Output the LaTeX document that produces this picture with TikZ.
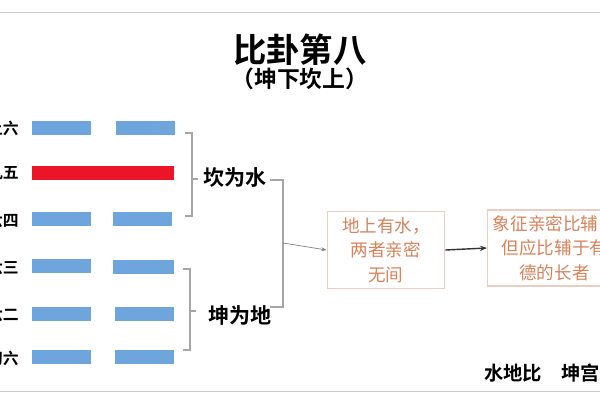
\documentclass[tikz,border=0pt]{standalone}
\usepackage{fontspec}
\newfontfamily\cjk{Noto Sans CJK SC}
\newfontfamily\cjkb{Noto Sans CJK SC Bold}
\usetikzlibrary{arrows.meta}
\definecolor{barblue}{RGB}{110,165,220}
\definecolor{barred}{RGB}{235,20,40}
\definecolor{boxtext}{RGB}{215,130,90}
\definecolor{boxline}{RGB}{235,205,195}
\tikzset{
  yin/.style={fill=barblue},
  lbl/.style={font=\cjkb\fontsize{9}{10}\selectfont, anchor=east, inner sep=0pt},
  trig/.style={font=\cjkb\fontsize{12}{14}\selectfont},
  brk/.style={draw=gray!70, line width=0.6pt},
  note/.style={draw=boxline, line width=0.8pt, text=boxtext, align=center,
    font=\cjk\fontsize{10}{14}\selectfont, minimum height=1.4cm}
}
\begin{document}
\begin{tikzpicture}[x=0.02cm,y=-0.02cm]
  \useasboundingbox (0,0) rectangle (600,400);
  \draw[gray!40] (0,12) -- (600,12);
  \draw[gray!40] (0,391) -- (600,391);

  \node[font=\cjkb\fontsize{19}{22}\selectfont] (title) at (300,50) {比卦第八};
  \node[font=\cjkb\fontsize{13}{15}\selectfont] (sub) at (300,79) {（坤下坎上）};

  % lines, top to bottom
  \fill[yin] (32,121) rectangle (91,135);  \fill[yin] (116,121) rectangle (175,135);
  \fill[barred] (32,166) rectangle (174,180);
  \fill[yin] (32,212) rectangle (91,226);  \fill[yin] (113,212) rectangle (172,226);
  \fill[yin] (32,259) rectangle (91,273);  \fill[yin] (113,260) rectangle (174,274);
  \fill[yin] (32,307) rectangle (91,321);  \fill[yin] (115,307) rectangle (174,321);
  \fill[yin] (32,350) rectangle (91,364);  \fill[yin] (115,350) rectangle (174,364);

  \node[lbl] (l6) at (19,128) {上六};
  \node[lbl] (l5) at (19,173) {九五};
  \node[lbl] (l4) at (19,220) {六四};
  \node[lbl] (l3) at (19,267) {六三};
  \node[lbl] (l2) at (19,314) {六二};
  \node[lbl] (l1) at (19,358) {初六};

  \node[trig] (kan) at (235,178) {坎为水};
  \node[trig] (kun) at (240,315) {坤为地};
  \draw[brk] (185,133) -- (192,133) -- (192,216) -- (185,216);
  \draw[brk] (192,179) -- (198,179);
  \draw[brk] (183,269) -- (190,269) -- (190,350) -- (183,350);
  \draw[brk] (190,311) -- (196,311);
  \draw[brk] (270,180) -- (283,180) -- (283,307) -- (270,307);
  \coordinate (mid) at (283,243);

  \node[note, minimum width=2.35cm] (b1) at (386,250) {地上有水，\\两者亲密\\无间};
  \node[note, inner sep=3pt, anchor=west] (b2) at (487,248) {象征亲密比辅，\\但应比辅于有\\德的长者};
  \draw[gray, -{Stealth[length=3pt]}] (mid) -- (b1.west);
  \draw[black!80, line width=0.8pt, -{Stealth[length=4pt]}] (b1.east) -- (b2.west);

  \node[font=\cjkb\fontsize{11}{13}\selectfont, anchor=west] (name) at (478,373) {水地比\quad 坤宫归魂卦};
\end{tikzpicture}
\end{document}
